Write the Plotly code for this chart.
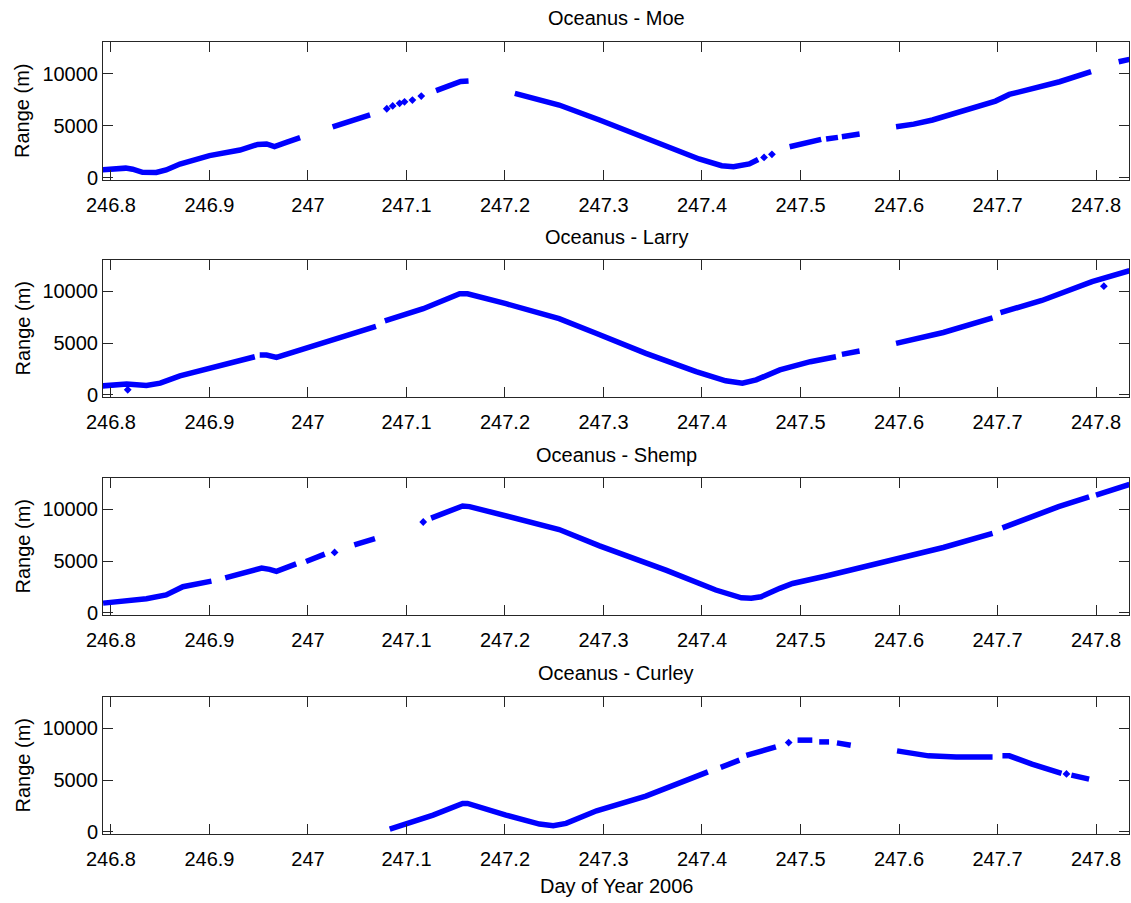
import plotly.graph_objects as go

# ---------------- data ----------------
titles = ["Oceanus - Moe", "Oceanus - Larry", "Oceanus - Shemp", "Oceanus - Curley"]
x_tick_vals = [246.8, 246.9, 247.0, 247.1, 247.2, 247.3, 247.4, 247.5, 247.6, 247.7, 247.8]
x_tick_text = ["246.8", "246.9", "247", "247.1", "247.2", "247.3", "247.4", "247.5", "247.6", "247.7", "247.8"]
y_tick_vals = [0, 5000, 10000]
y_tick_text = ["0", "5000", "10000"]

# dense tracks (None = gap)
moe_day = [246.791, 246.800, 246.815, 246.822, 246.832, 246.846, 246.856, 246.870, 246.900, 246.931, 246.949, 246.958, 246.966, 246.978, 246.992, None,
           247.025, 247.045, 247.063, None,
           247.130, 247.145, 247.155, 247.163, None,
           247.210, 247.255, 247.296, 247.330, 247.364, 247.397, 247.420, 247.432, 247.448, 247.457, None,
           247.489, 247.505, 247.521, None,
           247.526, 247.538, None,
           247.542, 247.560, None,
           247.597, 247.615, 247.634, 247.668, 247.698, 247.712, 247.763, 247.795, None,
           247.823, 247.834]
moe_range = [750, 850, 920, 820, 520, 500, 750, 1320, 2120, 2660, 3200, 3250, 3000, 3400, 3850, None,
             4900, 5500, 6050, None,
             8370, 8850, 9250, 9300, None,
             8110, 6990, 5550, 4270, 2980, 1800, 1150, 1050, 1320, 1750, None,
             2980, 3400, 3690, None,
             3720, 3880, None,
             3940, 4200, None,
             4900, 5150, 5550, 6510, 7370, 8010, 9230, 10190, None,
             11150, 11380]
moe_dot_day = [247.080, 247.086, 247.093, 247.098, 247.106, 247.115, 247.463, 247.471]
moe_dot_range = [6630, 6900, 7150, 7300, 7470, 7850, 1950, 2250]

larry_day = [246.791, 246.805, 246.816, 246.836, 246.850, 246.870, 246.900, 246.946, None,
             246.951, 246.958, 246.968, 246.992, 247.025, 247.069, None,
             247.078, 247.117, 247.154, 247.162, 247.201, 247.255, 247.293, 247.343, 247.394, 247.424, 247.441, 247.455, 247.479, 247.492, 247.510, 247.536, None,
             247.542, 247.560, None,
             247.597, 247.645, 247.695, None,
             247.703, 247.745, 247.796, 247.834]
larry_range = [850, 950, 1030, 900, 1120, 1830, 2560, 3680, None,
               3850, 3850, 3620, 4330, 5220, 6630, None,
               7150, 8330, 9780, 9780, 8820, 7370, 5930, 4010, 2240, 1350, 1120, 1440, 2400, 2720, 3200, 3680, None,
               3910, 4230, None,
               4970, 6030, 7440, None,
               7950, 9130, 10960, 12020]
larry_dot_day = [246.817, 247.808]
larry_dot_range = [480, 10510]

shemp_day = [246.792, 246.812, 246.836, 246.856, 246.873, 246.902, None,
             246.916, 246.944, 246.953, 246.961, 246.968, 246.988, None,
             246.998, 247.017, None,
             247.047, 247.068, None,
             247.125, 247.157, 247.164, 247.201, 247.255, 247.296, 247.364, 247.414, 247.440, 247.450, 247.460, 247.479, 247.492, 247.526, 247.600, 247.645, 247.695, None,
             247.705, 247.762, 247.793, None,
             247.800, 247.834]
shemp_range = [930, 1160, 1350, 1730, 2520, 3060, None,
               3370, 4100, 4320, 4200, 4010, 4730, None,
               4960, 5680, None,
               6570, 7170, None,
               9170, 10340, 10280, 9390, 8060, 6480, 4100, 2200, 1450, 1410, 1550, 2360, 2830, 3560, 5270, 6320, 7680, None,
               8220, 10280, 11230, None,
               11390, 12430]
shemp_dot_day = [247.027, 247.117]
shemp_dot_range = [5840, 8790]

curley_day = [247.083, 247.100, 247.127, 247.157, 247.162, 247.201, 247.235, 247.249, 247.262, 247.293, 247.343, 247.406, None,
              247.419, 247.438, None,
              247.445, 247.460, 247.475, None,
              247.497, 247.512, None,
              247.519, 247.529, None,
              247.537, 247.551, None,
              247.598, 247.630, 247.658, 247.695, None,
              247.705, 247.712, 247.735, 247.765, None,
              247.775, 247.793]
curley_range = [250, 740, 1610, 2740, 2740, 1610, 740, 580, 810, 2030, 3450, 5800, None,
                6230, 6930, None,
                7400, 7800, 8220, None,
                8870, 8870, None,
                8700, 8700, None,
                8610, 8380, None,
                7830, 7350, 7250, 7250, None,
                7350, 7350, 6550, 5650, None,
                5480, 5100]
curley_dot_day = [247.488, 247.770]
curley_dot_range = [8640, 5600]

series = [
    (moe_day, moe_range, moe_dot_day, moe_dot_range),
    (larry_day, larry_range, larry_dot_day, larry_dot_range),
    (shemp_day, shemp_range, shemp_dot_day, shemp_dot_range),
    (curley_day, curley_range, curley_dot_day, curley_dot_range),
]

# ---------------- layout geometry ----------------
W, H = 1131, 903
x_left_px, x_right_px = 103, 1129
panel_px = [(42, 180), (260, 397), (478, 615), (697, 834)]
title_y_px = [18, 237, 455, 673]
BLUE = "#0000FF"
FONT = "Liberation Sans, Arial, Helvetica, sans-serif"
FS = 20

fig = go.Figure()
layout = dict(
    width=W, height=H,
    margin=dict(l=0, r=0, t=0, b=0),
    paper_bgcolor="white", plot_bgcolor="white",
    showlegend=False,
    font=dict(family=FONT, size=FS, color="black"),
    annotations=[],
)

xdom = [x_left_px / W, x_right_px / W]
for i, (d, r, dd, dr) in enumerate(series):
    n = "" if i == 0 else str(i + 1)
    xa, ya = "x" + n, "y" + n
    fig.add_trace(go.Scatter(x=d, y=r, mode="lines", xaxis=xa, yaxis=ya,
                             line=dict(color=BLUE, width=5.5), connectgaps=False,
                             hoverinfo="skip"))
    fig.add_trace(go.Scatter(x=dd, y=dr, mode="markers", xaxis=xa, yaxis=ya,
                             marker=dict(color=BLUE, size=6, symbol="diamond"),
                             hoverinfo="skip"))
    top, bot = panel_px[i]
    ydom = [1 - bot / H, 1 - top / H]
    axis_common = dict(showgrid=False, zeroline=False, showline=True, linecolor="#262626",
                       linewidth=1, mirror="ticks", ticks="inside", ticklen=10,
                       tickcolor="#262626", tickfont=dict(size=FS, color="black"),
                       automargin=False)
    layout["xaxis" + n] = dict(domain=xdom, range=[246.7919, 247.8335], anchor=ya,
                               tickvals=x_tick_vals, ticktext=x_tick_text,
                               ticklabelstandoff=7, **axis_common)
    layout["yaxis" + n] = dict(domain=ydom, range=[-220, 13050], anchor=xa,
                               tickvals=y_tick_vals, ticktext=y_tick_text, **axis_common)
    layout["annotations"].append(dict(text=titles[i], xref="paper", yref="paper",
                                      x=(x_left_px + x_right_px) / 2 / W, y=1 - title_y_px[i] / H,
                                      showarrow=False, xanchor="center", yanchor="middle",
                                      font=dict(size=FS, color="black")))
    layout["annotations"].append(dict(text="Range (m)", xref="paper", yref="paper",
                                      x=22 / W, y=1 - (top + bot) / 2 / H, textangle=-90,
                                      showarrow=False, xanchor="center", yanchor="middle",
                                      font=dict(size=FS, color="black")))

layout["annotations"].append(dict(text="Day of Year 2006", xref="paper", yref="paper",
                                  x=(x_left_px + x_right_px) / 2 / W, y=1 - 886 / H,
                                  showarrow=False, xanchor="center", yanchor="middle",
                                  font=dict(size=FS, color="black")))
fig.update_layout(**layout)
fig.write_html("out.html", config={"displayModeBar": False},
               post_script="document.body.style.margin='0px';document.body.style.overflow='hidden';")
